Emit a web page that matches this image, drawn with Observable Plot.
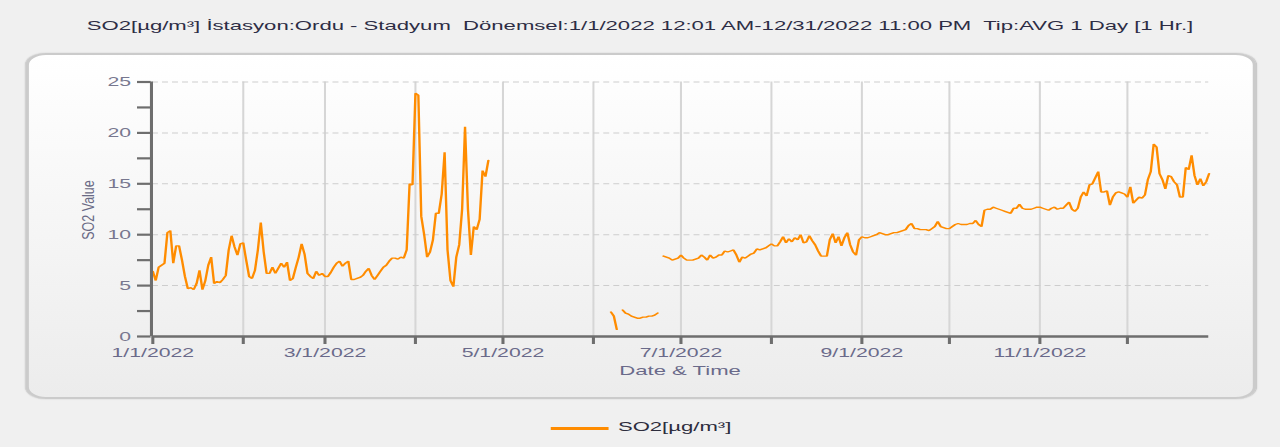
<!DOCTYPE html>
<html>
<head>
<meta charset="utf-8">
<script src="https://cdn.jsdelivr.net/npm/d3@7"></script>
<script src="https://cdn.jsdelivr.net/npm/@observablehq/plot@0.6"></script>
<style>
  html, body { margin: 0; padding: 0; background: #f0f0f0; }
  body { width: 1280px; height: 447px; overflow: hidden; position: relative; font-family: "Liberation Sans", Arial, sans-serif; }
  #stage { position: absolute; left: 0; top: 0; width: 753px; height: 447px; transform: scaleX(1.69987); transform-origin: 0 0; }
  #title { position: absolute; left: 0; width: 753px; top: 19px; text-align: center; font-size: 13px; line-height: 14px; color: #2d2d45; white-space: pre; }
  #panel { position: absolute; left: 14.7px; top: 53px; width: 724.7px; height: 346px; box-sizing: border-box;
           border: 2px solid #cbcbcb; border-radius: 12px; background: linear-gradient(#ffffff, #ececec); box-shadow: 0 0 1px #b8b8b8; }
  #chart { position: absolute; left: 0; top: 53px; }
  #ylabel { position: absolute; left: 51.5px; top: 210px; font-size: 12.5px; line-height: 12px; color: #6a6a85; white-space: nowrap;
            transform: translate(-50%, -50%) rotate(-90deg) scaleY(0.78); }
  #xlabel { position: absolute; left: 89.4px; width: 621.4px; top: 363.5px; text-align: center; font-size: 13px; line-height: 14px; color: #6a6a8a; }
  #legbar { position: absolute; left: 323.5px; top: 426.5px; width: 34px; height: 3px; background: #ff8c00; }
  #legtext { position: absolute; left: 363.5px; top: 420px; font-size: 13px; line-height: 14px; color: #2d2d3d; white-space: nowrap; }
</style>
</head>
<body>
<div id="stage">
  <div id="title"></div>
  <div id="panel"></div>
  <div id="chart"></div>
  <div id="ylabel"></div>
  <div id="xlabel"></div>
  <div id="legbar"></div>
  <div id="legtext"></div>
</div>
<script>
// ---- Texts ----
const titleText = "SO2[µg/m³] İstasyon:Ordu - Stadyum  Dönemsel:1/1/2022 12:01 AM-12/31/2022 11:00 PM  Tip:AVG 1 Day [1 Hr.]";
const yTitle = "SO2 Value";
const xTitle = "Date & Time";
const seriesName = "SO2[µg/m³]";

// ---- Daily SO2 averages (µg/m³), one array per month, null = no data ----
const jan = [6.4,5.5,6.8,7.0,7.2,10.2,10.4,7.2,8.9,8.9,7.5,5.9,4.7,4.8,4.6,5.2,6.5,4.6,5.5,7.0,7.8,5.2,5.4,5.3,5.6,6.0,8.5,9.9,8.8,8.0,9.1];
const feb = [9.2,7.5,5.9,5.7,6.5,8.5,11.2,8.3,6.2,6.2,6.8,6.2,6.7,7.2,6.8,7.3,5.5,5.7,6.8,7.8,9.1,8.1,6.2,5.9,5.7,6.4,6.0,6.2];
const mar = [5.9,5.9,6.3,6.8,7.2,7.4,6.9,7.2,7.4,5.6,5.6,5.7,5.8,6.0,6.4,6.7,6.0,5.6,6.0,6.4,6.8,7.0,7.4,7.7,7.7,7.6,7.8,7.7,8.5,15.0,14.9];
const apr = [23.9,23.7,11.8,10.0,7.8,8.3,9.5,12.1,12.1,14.0,18.1,8.5,5.5,4.9,7.8,9.0,12.5,20.6,12.5,8.0,10.8,10.5,11.5,16.3,15.7,17.3,null,null,null,null];
const may = [null,null,null,null,null,null,null,null,null,null,null,null,null,null,null,null,null,null,null,null,null,null,null,null,null,null,null,null,null,null,null];
const jun = [null,null,null,null,null,null,2.4,2.0,0.7,null,2.6,2.3,2.2,2.0,1.9,1.8,1.8,1.9,1.9,2.0,2.0,2.1,2.3,null,7.9,7.8,7.7,7.5,7.6,7.7];
const jul = [8.0,7.7,7.5,7.5,7.5,7.6,7.7,8.0,7.8,7.5,8.0,7.7,7.8,8.0,8.0,8.4,8.3,8.4,8.5,8.0,7.3,7.8,7.7,7.9,8.1,8.2,8.6,8.5,8.6,8.7,8.9];
const aug = [9.1,8.9,8.9,9.3,9.8,9.2,9.6,9.3,9.7,9.5,10.0,9.2,9.3,9.9,9.4,9.0,8.4,7.9,7.9,7.9,9.5,10.1,9.2,9.8,8.9,9.7,10.2,9.0,8.3,8.0,9.5];
const sep = [9.8,9.7,9.7,9.8,9.9,10.0,10.2,10.1,10.0,10.0,10.1,10.2,10.2,10.3,10.4,10.5,10.9,11.1,10.6,10.6,10.5,10.5,10.5,10.4,10.6,10.8,11.3,10.8,10.7,10.6];
const oct = [10.6,10.8,11.0,11.1,11.0,11.0,11.0,11.1,11.1,11.4,11.0,10.8,12.4,12.5,12.5,12.7,12.6,12.5,12.4,12.3,12.2,12.1,12.6,12.6,13.0,12.6,12.5,12.5,12.5,12.6,12.7];
const nov = [12.7,12.6,12.5,12.4,12.6,12.7,12.5,12.6,12.6,12.9,13.2,12.5,12.3,12.6,13.7,14.2,13.8,14.9,15.0,15.6,16.2,14.2,14.2,14.3,12.9,13.7,14.1,14.2,14.1,14.0];
const dec = [13.7,14.7,13.1,13.4,13.7,13.6,13.9,15.4,16.2,18.9,18.6,16.0,15.4,14.5,15.8,15.7,15.2,14.9,13.7,13.7,16.6,16.4,17.8,15.8,14.9,15.5,14.8,15.2,16.0];

// ---- Axis ticks ----
const yTicks = [0, 2.5, 5, 7.5, 10, 12.5, 15, 17.5, 20, 22.5, 25];
const yGrid = [5, 10, 15, 20, 25];
const xTickLabels = ["1/1/2022","","3/1/2022","","5/1/2022","","7/1/2022","","9/1/2022","","11/1/2022",""];

const months = [jan, feb, mar, apr, may, jun, jul, aug, sep, oct, nov, dec];
const data = months.flatMap((vals, m) => vals.map((v, i) => ({date: new Date(Date.UTC(2022, m, i + 1)), value: v})));
const monthTicks = d3.range(12).map(m => new Date(Date.UTC(2022, m, 1)));
const xStart = new Date(Date.UTC(2022, 0, 1));
const xEnd = new Date(Date.UTC(2022, 11, 29));

const axisColor = "#6e6e6e";
const orange = "#ff8c00";

const chart = Plot.plot({
  width: 753,
  height: 346,
  marginLeft: 89.4,
  marginRight: 42.2,
  marginTop: 28.5,
  marginBottom: 63,
  style: {background: "transparent", fontFamily: "Liberation Sans, Arial, sans-serif", fontSize: "12.5px"},
  x: {type: "utc", domain: [xStart, xEnd]},
  y: {domain: [0, 25]},
  marks: [
    Plot.ruleX(monthTicks.slice(1), {stroke: "#d6d6d6", strokeWidth: 1.2}),
    Plot.ruleY(yGrid, {stroke: "#cdcdcd", strokeWidth: 1, strokeDasharray: "3.5,2.4"}),
    Plot.line(data, {x: "date", y: "value", stroke: orange, strokeWidth: 1.4, strokeLinejoin: "miter"}),
    Plot.ruleX([xStart], {stroke: axisColor, strokeWidth: 1.8, dx: -0.8}),
    Plot.ruleY([0], {stroke: axisColor, strokeWidth: 2.6}),
    Plot.axisY({ticks: yTicks, tickFormat: d => (d % 5 === 0 ? String(d) : ""), tickSize: 8, tickPadding: 4,
                stroke: axisColor, strokeWidth: 2.2, fill: "#77778f", label: null, dx: -0.8}),
    Plot.axisX({ticks: monthTicks, tickFormat: (d, i) => xTickLabels[d.getUTCMonth()], tickSize: 8, tickPadding: 4,
                stroke: axisColor, strokeWidth: 1.8, fill: "#6a6a8a", label: null})
  ]
});
document.getElementById("chart").appendChild(chart);
document.getElementById("title").textContent = titleText;
document.getElementById("ylabel").textContent = yTitle;
document.getElementById("xlabel").textContent = xTitle;
document.getElementById("legtext").textContent = seriesName;
</script>
</body>
</html>
